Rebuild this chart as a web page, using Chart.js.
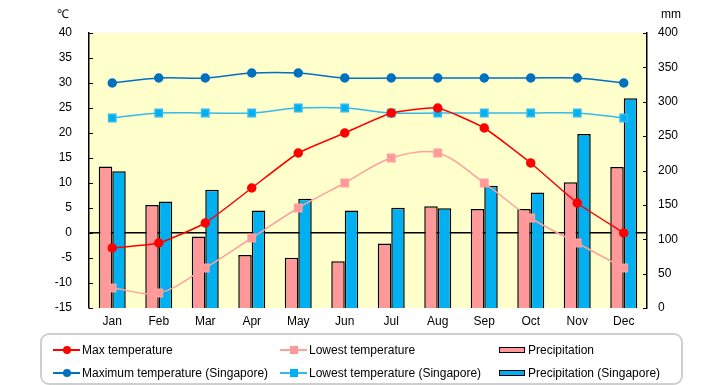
<!DOCTYPE html>
<html>
<head>
<meta charset="utf-8">
<script src="https://cdn.jsdelivr.net/npm/chart.js@4.4.1/dist/chart.umd.min.js"></script>
<style>
  body { margin: 0; background: #fff; font-family: "Liberation Sans", Arial, sans-serif; }
  #wrap { position: relative; width: 720px; height: 385px; }
  #chart { position: absolute; left: 0; top: 0; }
  #legend {
    position: absolute; left: 40px; top: 333px; width: 639px; height: 48px;
    border: 2px solid #cfcfcf; border-radius: 9px; box-sizing: content-box;
  }
  .item { position: absolute; font-size: 12px; color: #000; white-space: nowrap; line-height: 14px; }
  .mk { display: inline-block; position: relative; width: 27px; height: 14px; vertical-align: top; margin-right: 2px; }
  .mk .ln { position: absolute; left: 0; right: 0; top: 6px; height: 1.5px; }
  .mk .pt { position: absolute; left: 10px; top: 3px; width: 8px; height: 8px; }
  .mk .bx { position: absolute; left: 0; top: 4px; width: 24px; height: 4px; border: 1.5px solid #000; }
</style>
</head>
<body>
<div id="wrap">
  <canvas id="chart" width="720" height="385"></canvas>
  <div id="legend"></div>
</div>
<script>
const months = ['Jan', 'Feb', 'Mar', 'Apr', 'May', 'Jun', 'Jul', 'Aug', 'Sep', 'Oct', 'Nov', 'Dec'];

const maxTemp = [-3, -2, 2, 9, 16, 20, 24, 25, 21, 14, 6, 0];
const lowTemp = [-11, -12, -7, -1, 5, 10, 15, 16, 10, 3, -2, -7];
const precip = [206, 150, 104, 77, 73, 68, 94, 148, 144, 144, 183, 205];

const maxTempSg = [30, 31, 31, 32, 32, 31, 31, 31, 31, 31, 31, 30];
const lowTempSg = [23, 24, 24, 24, 25, 25, 24, 24, 24, 24, 24, 23];
const precipSg = [199, 155, 172, 142, 159, 142, 146, 145, 178, 168, 253, 305];

const tempTicks = [-15, -10, -5, 0, 5, 10, 15, 20, 25, 30, 35, 40];
const mmTicks = [0, 50, 100, 150, 200, 250, 300, 350, 400];

const fontFamily = '"Liberation Sans", Arial, sans-serif';

// plot background + inner tick marks + unit labels
const decor = {
    id: 'decor',
    beforeDraw(chart) {
        const a = chart.chartArea, ctx = chart.ctx;
        ctx.save();
        ctx.fillStyle = '#FFFFCC';
        ctx.fillRect(a.left, a.top, a.right - a.left, a.bottom - a.top);
        ctx.restore();
    },
    afterDraw(chart) {
        const a = chart.chartArea, ctx = chart.ctx;
        ctx.save();
        ctx.strokeStyle = '#000';
        ctx.lineWidth = 1;
        chart.scales.y.ticks.forEach(t => {
            const y = Math.round(chart.scales.y.getPixelForValue(t.value)) + 0.5;
            ctx.beginPath(); ctx.moveTo(a.left, y); ctx.lineTo(a.left + 4, y); ctx.stroke();
        });
        chart.scales.y1.ticks.forEach(t => {
            const y = Math.round(chart.scales.y1.getPixelForValue(t.value)) + 0.5;
            ctx.beginPath(); ctx.moveTo(a.right - 4, y); ctx.lineTo(a.right, y); ctx.stroke();
        });
        ctx.fillStyle = '#000';
        ctx.font = '12px ' + fontFamily;
        ctx.textBaseline = 'middle';
        ctx.textAlign = 'left';
        ctx.fillText('\u2103', 57, 15);
        ctx.fillText('mm', 661, 15);
        ctx.restore();
    }
};

const datasets = [
    { type: 'line', label: 'Max temperature', data: maxTemp, yAxisID: 'y', order: 0,
      borderColor: '#FF0000', backgroundColor: '#FF0000', borderWidth: 1.5,
      pointStyle: 'circle', pointRadius: 4, tension: 0.15 },
    { type: 'line', label: 'Lowest temperature', data: lowTemp, yAxisID: 'y', order: 0,
      borderColor: '#FFA0A0', backgroundColor: '#FF9999', borderWidth: 1.5,
      pointStyle: 'rect', pointRadius: 5.2, tension: 0.35 },
    { type: 'bar', label: 'Precipitation', data: precip, yAxisID: 'y1', order: 1,
      backgroundColor: '#FF9999', borderColor: '#000', borderWidth: 1.5 },
    { type: 'line', label: 'Maximum temperature (Singapore)', data: maxTempSg, yAxisID: 'y', order: 0,
      borderColor: '#0070C0', backgroundColor: '#0070C0', borderWidth: 1.5,
      pointStyle: 'circle', pointRadius: 4, tension: 0.3 },
    { type: 'line', label: 'Lowest temperature (Singapore)', data: lowTempSg, yAxisID: 'y', order: 0,
      borderColor: '#33BBEE', backgroundColor: '#00B0F0', borderWidth: 1.5,
      pointStyle: 'rect', pointRadius: 5.2, tension: 0.35 },
    { type: 'bar', label: 'Precipitation (Singapore)', data: precipSg, yAxisID: 'y1', order: 1,
      backgroundColor: '#00B0F0', borderColor: '#000', borderWidth: 1.5 }
];

new Chart(document.getElementById('chart'), {
    data: { labels: months, datasets: datasets },
    options: {
        responsive: false,
        animation: false,
        layout: { padding: { top: 33, left: 0, right: 0, bottom: 0 } },
        plugins: { legend: { display: false }, tooltip: { enabled: false } },
        datasets: { bar: { categoryPercentage: 0.58, barPercentage: 1.0 } },
        scales: {
            x: {
                grid: { display: false, drawTicks: false },
                border: { display: false },
                ticks: { color: '#000', font: { size: 12, family: fontFamily }, padding: 6 },
                afterFit: s => { s.height = 77; }
            },
            y: {
                position: 'left', min: -15, max: 40,
                afterBuildTicks: s => { s.ticks = tempTicks.map(v => ({ value: v })); },
                grid: { drawTicks: false, color: c => c.tick && c.tick.value === 0 ? '#000' : 'rgba(0,0,0,0)', lineWidth: 1.5 },
                border: { display: true, color: '#000', width: 1.5 },
                ticks: { color: '#000', font: { size: 12, family: fontFamily }, padding: 17 },
                afterFit: s => { s.width = 89; }
            },
            y1: {
                position: 'right', min: 0, max: 400,
                afterBuildTicks: s => { s.ticks = mmTicks.map(v => ({ value: v })); },
                grid: { display: false, drawTicks: false },
                border: { display: true, color: '#000', width: 1.5 },
                ticks: { color: '#000', font: { size: 12, family: fontFamily }, padding: 11 },
                afterFit: s => { s.width = 73; }
            }
        }
    },
    plugins: [decor]
});

// HTML legend built from the datasets
const legendPos = [
    { left: 11, top: 8 }, { left: 238, top: 8 }, { left: 457, top: 8 },
    { left: 11, top: 31 }, { left: 238, top: 31 }, { left: 457, top: 31 }
];
const legend = document.getElementById('legend');
datasets.forEach((ds, i) => {
    const el = document.createElement('div');
    el.className = 'item';
    el.style.left = legendPos[i].left + 'px';
    el.style.top = legendPos[i].top + 'px';
    let mk;
    if (ds.type === 'bar') {
        mk = '<span class="mk"><span class="bx" style="background:' + ds.backgroundColor + '"></span></span>';
    } else {
        const round = ds.pointStyle === 'circle' ? 'border-radius:50%;' : '';
        mk = '<span class="mk"><span class="ln" style="background:' + ds.borderColor + '"></span>' +
             '<span class="pt" style="' + round + 'background:' + ds.backgroundColor + '"></span></span>';
    }
    el.innerHTML = mk + ds.label;
    legend.appendChild(el);
});
</script>
</body>
</html>
